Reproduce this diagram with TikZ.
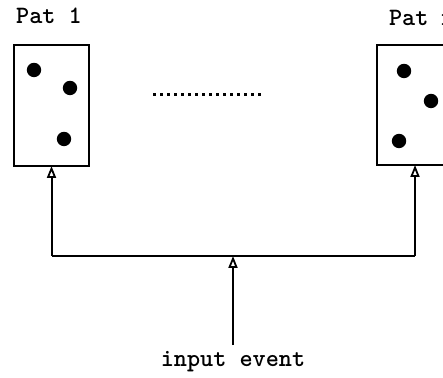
\documentclass[tikz,border=0pt]{standalone}
\usetikzlibrary{arrows.meta}

\tikzstyle{patbox}=[draw, line width=1pt, inner sep=0pt, outer sep=0pt]
\tikzstyle{label}=[font=\ttfamily\bfseries\fontsize{12.5}{14}\selectfont]
\tikzstyle{arrow}=[line width=1pt, -{Triangle[open, width=4.5pt, length=6pt, line width=0.9pt]}]
\tikzstyle{wire}=[line width=1pt]

\begin{document}
\begin{tikzpicture}[x=0.5pt, y=-0.5pt]
      \useasboundingbox (0,0) rectangle (443,378);

      \node[patbox, minimum width=37.5pt, minimum height=60.5pt] (pat1) at (51.5,105.5) {};
      \node[patbox, minimum width=38pt, minimum height=60pt] (patn) at (415,105) {};
      \node[label] (name1) at (49,16) {Pat 1};
      \node[label, anchor=west] (namen) at (382,18) {Pat n};
      \node[label] (input) at (233,362) {input event};

      \fill (34,70) circle (3.6pt);
      \fill (70,88) circle (3.6pt);
      \fill (64,139) circle (3.6pt);
      \fill (404,71) circle (3.6pt);
      \fill (431,101) circle (3.6pt);
      \fill (399,141) circle (3.6pt);

      \draw[line width=1.5pt, dash pattern=on 1.5pt off 2pt] (153,95) -- (264,95);

      \coordinate (jl) at (51.5,256);
      \coordinate (jr) at (415,256);
      \coordinate (jm) at (233,256);
      \coordinate (src) at (233,345);

      \draw[wire] (jl) -- (jr);
      \draw[arrow] (jl) to (pat1.south);
      \draw[arrow] (jr) to (patn.south);
      \draw[arrow] (src) to (jm);
    \end{tikzpicture}
\end{document}
